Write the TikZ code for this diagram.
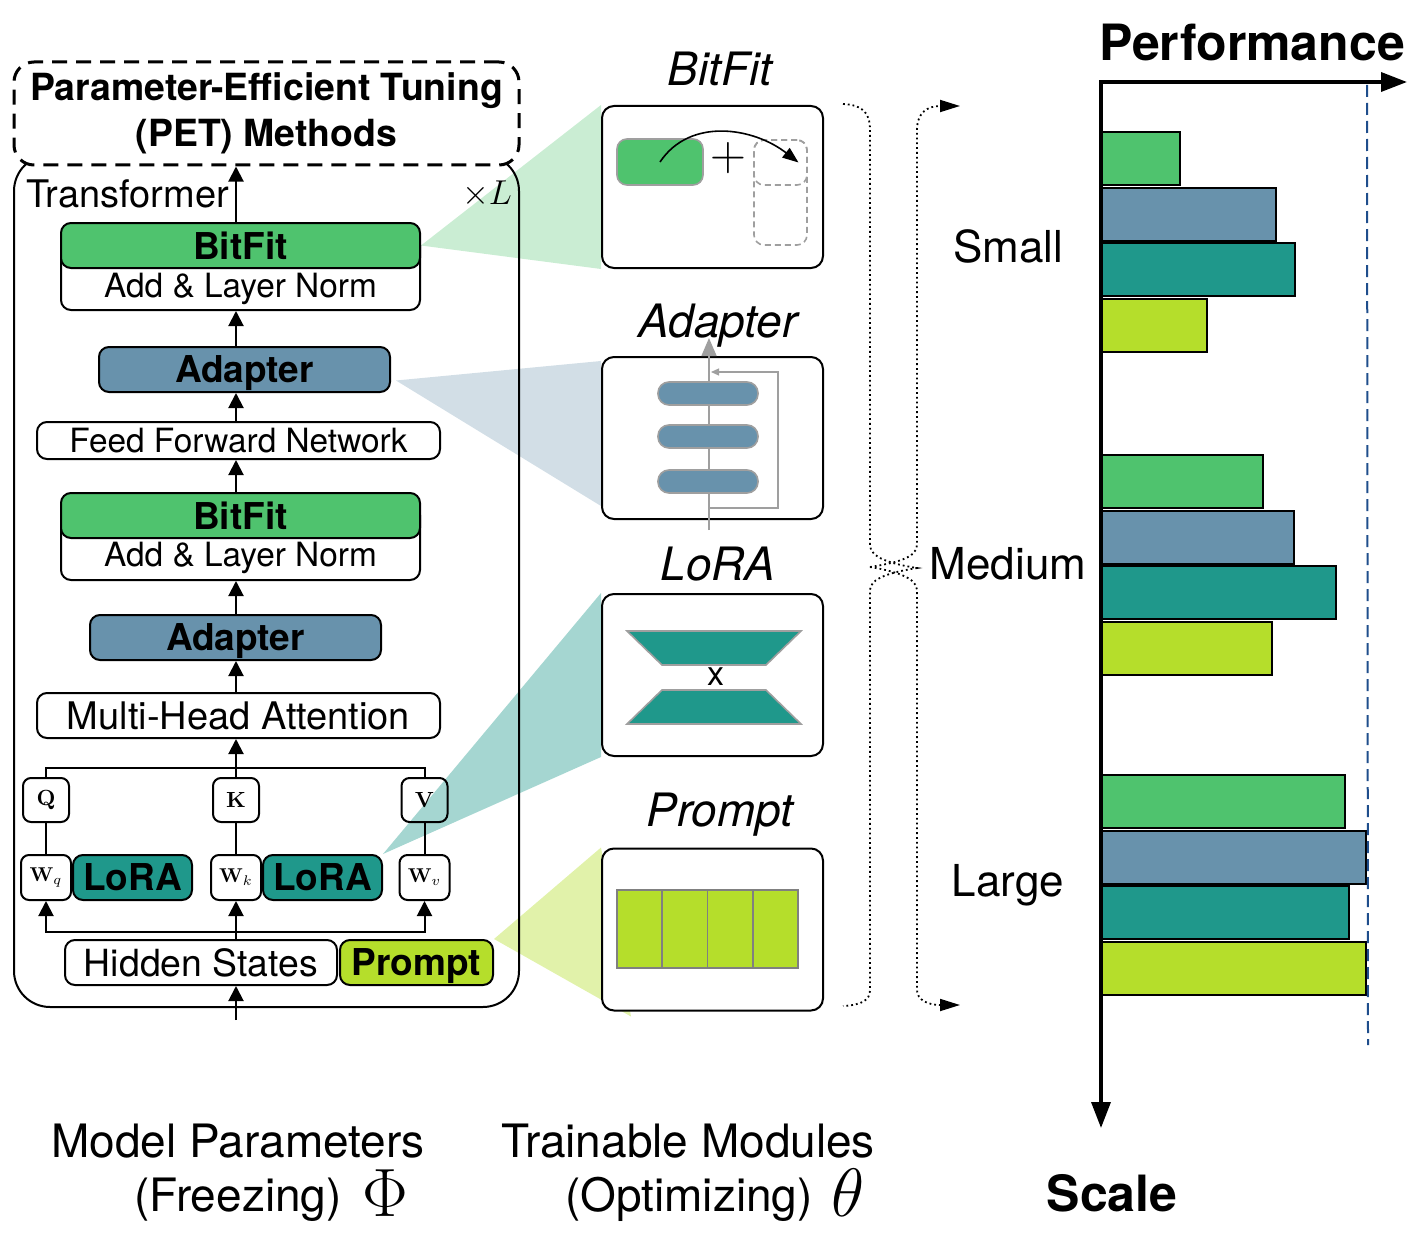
\documentclass[tikz,border=0pt]{standalone}
\usepackage[no-math]{fontspec}
\setmainfont{TeX Gyre Heros}
\usetikzlibrary{arrows.meta, calc, positioning, backgrounds}
\definecolor{bitgreen}{HTML}{4FC36E}
\definecolor{adblue}{HTML}{6892AC}
\definecolor{lorateal}{HTML}{1F988B}
\definecolor{promptlime}{HTML}{B5DE2B}
\definecolor{bestblue}{HTML}{1F4E8C}

\begin{document}
\begin{tikzpicture}[x=0.5pt, y=-0.5pt]
    \tikzstyle{box} = [rectangle, draw=black, line width=1pt, rounded corners=5pt, inner sep=0pt, minimum height=22.5pt]
    \tikzstyle{panel} = [rectangle, draw=black, fill=white, line width=1pt, rounded corners=6pt, minimum width=110.5pt, minimum height=81pt]
    \tikzstyle{arr} = [line width=1pt, -{Triangle[length=7.5pt, width=7.5pt]}]
    \tikzstyle{bfont} = [font=\fontsize{18.5}{22}\selectfont\bfseries, text depth=0pt]
    \tikzstyle{nfont} = [font=\fontsize{16.7}{20}\selectfont]
    \tikzstyle{paneltitle} = [font=\fontsize{23}{26}\selectfont\itshape, anchor=base]
    \tikzstyle{sizelbl} = [font=\fontsize{22}{26}\selectfont, anchor=base]
    \tikzstyle{axlbl} = [font=\fontsize{25}{30}\selectfont\bfseries, anchor=base]
    \tikzstyle{bottomlbl} = [font=\fontsize{23}{27}\selectfont, anchor=base]
    \tikzstyle{bigmath} = [font=\fontsize{24}{26}\selectfont, scale=1.375, anchor=base]
    \tikzstyle{mat} = [box, rounded corners=4pt, minimum width=23pt, minimum height=22pt, font=\fontsize{11}{13}\selectfont]
    \tikzstyle{wmat} = [box, rounded corners=4pt, minimum width=25pt, font=\fontsize{10}{12}\selectfont]
    \tikzstyle{bar} = [draw=black, line width=1pt]
    \tikzstyle{brace} = [line width=0.9pt, dash pattern=on 0.9pt off 1.5pt]
    \tikzstyle{gline} = [draw=gray!75, line width=0.8pt]
    \tikzstyle{slot} = [draw=gray!75, dash pattern=on 3pt off 2pt, line width=0.8pt, rounded corners=5pt, minimum width=26.5pt, inner sep=0pt]
    \tikzstyle{pill} = [draw=gray!75, fill=adblue, line width=0.8pt, rounded corners=5.5pt, minimum width=50pt, minimum height=11.5pt, inner sep=0pt]

    \useasboundingbox (0,0) rectangle (1419,1236);

    % frozen transformer
    \node[draw=black, line width=1pt, rounded corners=18pt, minimum width=252.5pt, minimum height=426pt, inner sep=0pt] (trf) at (266.5,581) {};
    \node[draw=black, fill=white, line width=1.5pt, dash pattern=on 7.5pt off 4.5pt, rounded corners=10pt, minimum width=252.5pt, minimum height=51.5pt, align=center, font=\fontsize{18.7}{23}\selectfont\bfseries] (pet) at (266.5,113.5) {Parameter-Efficient Tuning\\(PET) Methods};
    \node[font=\fontsize{19}{22}\selectfont, anchor=base west] (trft) at (19,207) {Transformer};
    \node[font=\fontsize{18}{22}\selectfont, anchor=base east] (layers) at (519,205) {$\times L$};

    \node[box, fill=white, minimum width=179.5pt, minimum height=37.5pt] (lnA) at (240.5,272.5) {};
    \node[box, bfont, fill=bitgreen, minimum width=179.5pt] (bitA) at (240.5,245.5) {BitFit};
    \node[nfont] (lnAt) at (240.5,289) {Add \& Layer Norm};
    \node[box, bfont, fill=adblue, minimum width=145.5pt] (adA) at (244.5,369.5) {Adapter};
    \node[box, nfont, fill=white, minimum width=201.5pt, minimum height=18.5pt] (ffn) at (238.5,440.5) {Feed Forward Network};
    \node[box, fill=white, minimum width=179.5pt, minimum height=37.5pt] (lnB) at (240.5,542.5) {};
    \node[box, bfont, fill=bitgreen, minimum width=179.5pt] (bitB) at (240.5,515.5) {BitFit};
    \node[nfont] (lnBt) at (240.5,558) {Add \& Layer Norm};
    \node[box, bfont, fill=adblue, minimum width=145.5pt] (adB) at (235.5,637.5) {Adapter};
    \node[box, fill=white, minimum width=201.5pt, font=\fontsize{19}{22}\selectfont] (mha) at (238.5,715.5) {Multi-Head Attention};

    \node[mat] (q) at (46,800) {$\mathbf{Q}$};
    \node[mat] (k) at (236,800) {$\mathbf{K}$};
    \node[mat] (v) at (424.5,800) {$\mathbf{V}$};
    \node[wmat] (wq) at (46,877.5) {$\mathbf{W}_q$};
    \node[wmat] (wk) at (236,877.5) {$\mathbf{W}_k$};
    \node[wmat] (wv) at (424.5,877.5) {$\mathbf{W}_v$};
    \node[box, bfont, fill=lorateal, minimum width=59.5pt] (loA) at (132.5,877.5) {LoRA};
    \node[box, bfont, fill=lorateal, minimum width=59.5pt] (loB) at (322.5,877.5) {LoRA};
    \node[box, fill=white, minimum width=136pt, font=\fontsize{18.7}{22}\selectfont] (hs) at (201,962.5) {Hidden States};
    \node[box, bfont, fill=promptlime, minimum width=76.5pt] (pr) at (416.5,962.5) {Prompt};

    \coordinate (spine) at (236,0);
    \draw[arr] (bitA.north -| spine) -- (pet.south -| spine);
    \draw[arr] (adA.north -| spine) -- (lnA.south -| spine);
    \draw[arr] (ffn.north -| spine) -- (adA.south -| spine);
    \draw[arr] (bitB.north -| spine) -- (ffn.south -| spine);
    \draw[arr] (adB.north -| spine) -- (lnB.south -| spine);
    \draw[arr] (mha.north -| spine) -- (adB.south -| spine);

    \coordinate (join) at (236,768);
    \draw[line width=1pt] (q.north) |- (join) -| (v.north);
    \draw[line width=1pt] (k.north) -- (join);
    \draw[arr] (join) -- (mha.south -| join);
    \draw[line width=1pt] (q) -- (wq);
    \draw[line width=1pt] (k) -- (wk);
    \draw[line width=1pt] (v) -- (wv);

    \coordinate (split) at (236,932);
    \draw[arr] (split) -| (wq.south);
    \draw[arr] (split) -| (wv.south);
    \draw[arr] (split |- hs.north) -- (wk.south);
    \coordinate (inp) at (236,1020);
    \draw[arr] (inp) -- (inp |- hs.south);

    % trainable modules
    \node[paneltitle] (tBit) at (720,86) {BitFit};
    \node[paneltitle] (tAd) at (718,337) {Adapter};
    \node[paneltitle] (tLo) at (718,580) {LoRA};
    \node[paneltitle] (tPr) at (720,826) {Prompt};

    \node[panel] (pBit) at (712.5,187) {};
    \node[panel] (pAd) at (712.5,438) {};
    \node[panel] (pLo) at (712.5,675) {};
    \node[panel] (pPr) at (712.5,929.5) {};

    \node[draw=gray!75, fill=bitgreen, line width=0.8pt, rounded corners=5pt, minimum width=43pt, minimum height=23pt, inner sep=0pt] (bgreen) at (660,162) {};
    \node[font=\fontsize{24}{26}\selectfont] (plus) at (728,158) {$+$};
    \node[slot, minimum height=52.5pt] (slotall) at (780.5,192.5) {};
    \node[slot, minimum height=22.5pt] (slottop) at (780.5,162.5) {};
    \draw[line width=0.8pt, -{Triangle[length=8pt, width=6pt]}] (bgreen.center) .. controls +(30,-45) and +(-45,-35) .. ($(slottop.center)+(18,0)$);

    \coordinate (adin) at (709,530);
    \coordinate (adout) at (709,338);
    \coordinate (skipin) at (709,508);
    \coordinate (skipout) at (711,372);
    \draw[gline, -{Triangle[length=9pt, width=7.5pt]}] (adin) -- (adout);
    \foreach \yy [count=\i] in {393.5,436.5,481.5}
        \node[pill] (pill\i) at (708,\yy) {};
    \draw[gline, line width=0.6pt, -{Triangle[length=4pt, width=3.5pt]}] (skipin) -| ($(skipout)+(67,0)$) -- (skipout);

    \filldraw[fill=lorateal, draw=gray!75, line width=0.8pt] (627,631) -- (801,631) -- (766,665) -- (662,665) -- cycle;
    \filldraw[fill=lorateal, draw=gray!75, line width=0.8pt] (662,690) -- (766,690) -- (801,724) -- (627,724) -- cycle;
    \node[font=\fontsize{17}{19}\selectfont] (lotimes) at (716,677) {x};

    \foreach \i in {0,...,3}
        \draw[fill=promptlime, draw=gray, line width=0.9pt] (617+\i*45.25,890) rectangle (662.25+\i*45.25,968);

    % zoom-in funnels
    \begin{scope}[on background layer]
        \fill[bitgreen!30] (bitA.east) -- (pBit.north west) -- (pBit.south west) -- cycle;
        \fill[adblue!30] ($(adA.east)+(5,11)$) -- ($(pAd.north west)+(0,5)$) -- ($(pAd.south west)+(0,-14)$) -- cycle;
        \fill[lorateal!40] (loB.north east) -- (pLo.north west) -- (pLo.south west) -- cycle;
        \fill[promptlime!40] (pr.north east) -- (pPr.north west) -- ($(pPr.south west)+(30,5)$) -- cycle;
    \end{scope}

    % braces to scales
    \draw[brace] (843,104) .. controls (862,105) and (870,112) .. (870,130) -- (870,545) .. controls (870,558) and (892,564) .. (917,568) .. controls (892,572) and (870,578) .. (870,590) -- (870,990) .. controls (870,1000) and (862,1005) .. (843,1006);
    \draw[brace, -{Triangle[length=10pt, width=6pt]}] (870,567) .. controls (895,563) and (917,558) .. (917,545) -- (917,130) .. controls (917,112) and (928,106) .. (960,106);
    \draw[brace, -{Triangle[length=10pt, width=6pt]}] (870,567) .. controls (895,571) and (917,578) .. (917,590) -- (917,990) .. controls (917,1000) and (928,1005) .. (960,1005);

    \node[sizelbl] (small) at (1008,262) {Small};
    \node[sizelbl] (medium) at (1008,579) {Medium};
    \node[sizelbl] (large) at (1008,896) {Large};

    % performance chart
    \foreach \yt/\wa/\wb/\wc/\wd in {132/1180/1276/1295/1207, 455/1263/1294/1336/1272, 775/1345/1366/1349/1366}{
        \draw[bar, fill=bitgreen] (1101,\yt) rectangle (\wa,\yt+53);
        \draw[bar, fill=adblue] (1101,\yt+55.5) rectangle (\wb,\yt+108.5);
        \draw[bar, fill=lorateal] (1101,\yt+111) rectangle (\wc,\yt+164);
        \draw[bar, fill=promptlime] (1101,\yt+166.5) rectangle (\wd,\yt+219.5);
    }
    \coordinate (best) at (1367,85);
    \coordinate (bestend) at (1368,1045);
    \draw[bestblue, line width=1pt, dash pattern=on 6pt off 3pt] (best) -- (bestend);

    \coordinate (org) at (1101,82);
    \coordinate (xend) at (1407,82);
    \coordinate (yend) at (1101,1128);
    \draw[line width=1.75pt, {Triangle[length=13pt, width=9.5pt]}-{Triangle[length=13pt, width=9.5pt]}] (xend) -- (org) -- (yend);
    \node[axlbl] (perf) at (1252,61) {Performance};
    \node[axlbl] (scale) at (1112,1211) {Scale};

    % captions
    \node[bottomlbl] (mp) at (238,1157) {Model Parameters};
    \node[bottomlbl] (frz) at (238,1211) {(Freezing)};
    \node[bigmath] (phi) at (385,1216) {$\Phi$};
    \node[bottomlbl] (tm) at (688,1157) {Trainable Modules};
    \node[bottomlbl] (opt) at (689,1211) {(Optimizing)};
    \node[bigmath] (theta) at (848,1216) {$\theta$};
\end{tikzpicture}
\end{document}
